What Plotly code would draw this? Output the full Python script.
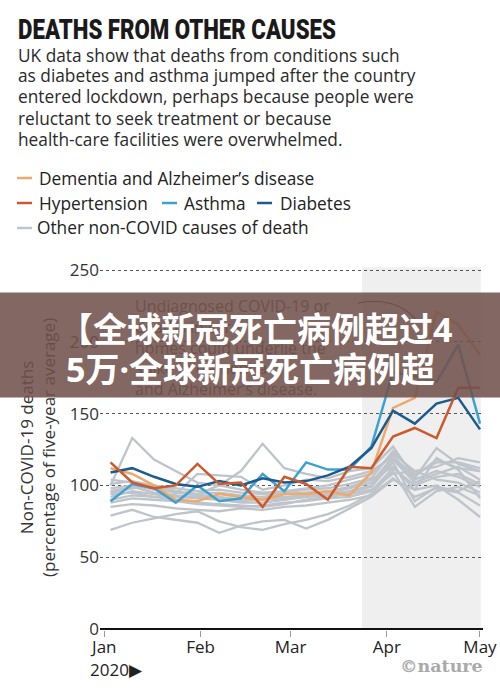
import plotly.graph_objects as go

# ---------------- data ----------------
weeks = ["2020-01-03", "2020-01-10", "2020-01-17", "2020-01-24", "2020-01-31",
         "2020-02-07", "2020-02-14", "2020-02-21", "2020-02-28", "2020-03-06",
         "2020-03-13", "2020-03-20", "2020-03-27", "2020-04-03", "2020-04-10",
         "2020-04-17", "2020-04-24", "2020-05-01"]

dementia = [112, 108, 100, 90, 89, 94, 92, 90, 94, 94, 96, 93, 109, 154, 161, 221, 212, 191]
hypertension = [116, 102, 98, 100, 115, 101, 102, 85, 106, 101, 90, 113, 112, 134, 140, 133, 168, 168]
asthma = [89, 101, 98, 88, 100, 89, 91, 108, 96, 116, 111, 111, 127, 179, 176, 172, 198, 143]
diabetes = [109, 112, 106, 101, 99, 103, 100, 105, 102, 103, 107, 113, 126, 152, 143, 157, 161, 139]

other_causes = [
    [100, 133, 118, 110, 102, 100, 97, 95, 96, 98, 100, 104, 108, 122, 110, 113, 119, 116],
    [95, 98, 100, 96, 94, 100, 110, 129, 112, 108, 105, 110, 112, 127, 105, 126, 115, 110],
    [79, 83, 78, 76, 74, 67, 72, 75, 76, 70, 76, 84, 92, 104, 97, 100, 90, 78],
    [69, 74, 77, 80, 82, 75, 71, 69, 73, 76, 80, 86, 94, 110, 85, 96, 99, 93],
    [92, 96, 94, 92, 91, 90, 88, 88, 90, 92, 94, 96, 100, 118, 102, 108, 113, 104],
    [98, 100, 97, 95, 93, 92, 90, 91, 92, 93, 95, 98, 102, 120, 104, 110, 106, 99],
    [104, 102, 99, 96, 94, 95, 93, 92, 94, 95, 96, 99, 104, 113, 97, 119, 111, 91],
    [90, 93, 92, 90, 88, 87, 86, 85, 87, 90, 92, 94, 97, 108, 110, 104, 102, 95],
    [96, 99, 95, 93, 92, 91, 89, 90, 91, 92, 93, 95, 99, 116, 89, 99, 96, 103],
    [101, 103, 100, 98, 96, 97, 95, 94, 95, 97, 98, 101, 105, 124, 108, 116, 116, 112],
    [88, 91, 90, 89, 87, 86, 85, 86, 88, 89, 91, 92, 96, 112, 100, 106, 108, 101],
    [85, 87, 86, 84, 83, 82, 84, 83, 85, 86, 88, 90, 93, 105, 92, 98, 95, 86],
    [94, 95, 92, 94, 108, 107, 106, 97, 100, 104, 103, 106, 110, 120, 106, 118, 112, 110],
]

month_ticks = ["2020-01-01", "2020-02-01", "2020-03-01", "2020-04-01", "2020-05-01"]
month_labels = ["Jan", "Feb", "Mar", "Apr", "May"]
y_ticks = [0, 50, 100, 150, 200, 250]
lockdown_start = "2020-03-24"
lockdown_end = "2020-05-01 06:00"

# ---------------- styling ----------------
C_DEM = "#eeaa6c"
C_HYP = "#cc5a2c"
C_AST = "#3da2d2"
C_DIA = "#1c5b8c"
C_OTH = "#bfc4ca"

W, H = 500, 691
L, R, T, B = 100, 17, 267, 61
PW, PH = W - L - R, H - T - B

def px(x):
    return (x - L) / PW

def py(y):
    return (H - B - y) / PH

TXT = "Open Sans, Noto Sans, sans-serif"

fig = go.Figure()

for s in other_causes:
    fig.add_trace(go.Scatter(x=weeks, y=s, mode="lines",
                             line=dict(color=C_OTH, width=2.3), hoverinfo="skip"))
for s, c in [(dementia, C_DEM), (asthma, C_AST), (diabetes, C_DIA), (hypertension, C_HYP)]:
    fig.add_trace(go.Scatter(x=weeks, y=s, mode="lines",
                             line=dict(color=c, width=2.5), hoverinfo="skip"))

# lockdown shading
fig.add_shape(type="rect", xref="x", yref="y", x0=lockdown_start, x1=lockdown_end,
              y0=0, y1=252, fillcolor="#efefef", line_width=0, layer="below")

# annotation pointer arc
fig.add_shape(type="path", xref="paper", yref="paper",
              path=f"M {px(358)},{py(303)} Q {px(398)},{py(296)} {px(418)},{py(322)}",
              line=dict(color="#333", width=1.2))

fig.update_layout(
    template="none",
    width=W, height=H,
    margin=dict(l=L, r=R, t=T, b=B, autoexpand=False),
    paper_bgcolor="white", plot_bgcolor="white",
    showlegend=False,
    hovermode=False,
    xaxis=dict(type="date", range=["2019-12-30 14:43", "2020-05-01 23:14"],
               tickvals=month_ticks, ticktext=month_labels, automargin=False,
               ticks="outside", ticklen=6, tickcolor="#999", tickwidth=1,
               ticklabelstandoff=-4,
               tickfont=dict(family=TXT, size=17, color="#222"),
               showgrid=False, showline=False, zeroline=False),
    yaxis=dict(range=[-0.7, 252.1], tickvals=y_ticks, automargin=False,
               tickfont=dict(family=TXT, size=17, color="#333"),
               showgrid=True, gridcolor="#555", griddash="dot", gridwidth=1,
               zeroline=True, zerolinecolor="#111", zerolinewidth=2,
               showline=False, ticks=""),
)

ann = []
# title (index 0) and subtitle
ann.append(dict(text="DEATHS FROM OTHER CAUSES", x=px(16), y=py(29), xanchor="left", yanchor="middle",
                font=dict(family="Roboto, sans-serif", size=28, weight=900, color="#1a1a1a")))
sub = ["UK data show that deaths from conditions such",
       "as diabetes and asthma jumped after the country",
       "entered lockdown, perhaps because people were",
       "reluctant to seek treatment or because",
       "health-care facilities were overwhelmed."]
for i, line in enumerate(sub):
    ann.append(dict(text=line, x=px(16), y=py(55 + 21 * i), xanchor="left", yanchor="middle",
                    font=dict(family=TXT, size=17.3, color="#2a2a2a")))

# legend
legend_items = [
    (17, 178, C_DEM, 37, "Dementia and Alzheimer’s disease"),
    (17, 203, C_HYP, 37, "Hypertension"),
    (162, 203, C_AST, 182, "Asthma"),
    (257, 203, C_DIA, 278, "Diabetes"),
    (17, 228, C_OTH, 35, "Other non-COVID causes of death"),
]
for x0, yy, c, tx, label in legend_items:
    fig.add_shape(type="line", xref="paper", yref="paper", x0=px(x0), x1=px(x0 + 15),
                  y0=py(yy), y1=py(yy), line=dict(color=c, width=2.5))
    ann.append(dict(text=label, x=px(tx), y=py(yy), xanchor="left", yanchor="middle",
                    font=dict(family=TXT, size=17.3, color="#222")))

# y axis title
ann.append(dict(text="Non-COVID-19 deaths<br>(percentage of five-year average)",
                x=px(37), y=py(448), textangle=-90, xanchor="center", yanchor="middle",
                font=dict(family=TXT, size=17, color="#333")))

# year marker
ann.append(dict(text="2020▶", x=px(88), y=py(669), xanchor="left", yanchor="middle",
                font=dict(family=TXT, size=17, color="#222")))

# nature logo
ann.append(dict(text="<b>©nature</b>", x=px(485), y=py(666), xanchor="right", yanchor="middle",
                font=dict(family="DejaVu Serif, serif", size=17.5, color="#a9a9a9")))

# in-chart note (partly hidden by banner)
ann.append(dict(text="Undiagnosed COVID-19 or<br>deaths in care<br>homes could underlie the<br>spike in dementia<br>and Alzheimer’s disease.",
                x=px(133), y=py(293), xanchor="left", yanchor="top", align="left",
                font=dict(family=TXT, size=16, color="#555")))

# overlay banner
ann.append(dict(text=" ", x=px(250), y=py(345), xanchor="center", yanchor="middle",
                width=500, height=104, bgcolor="rgba(112,80,75,0.87)", borderpad=0,
                showarrow=False))
CJK = "Noto Sans, Noto Sans CJK SC, sans-serif"
ann.append(dict(text="<b>【全球新冠死亡病例超过4</b>",
                x=px(57), y=py(329), xanchor="left", yanchor="middle",
                font=dict(family=CJK, size=34, color="white")))
ann.append(dict(text="<b>5万·全球新冠死亡病例超</b>",
                x=px(64), y=py(369), xanchor="left", yanchor="middle",
                font=dict(family=CJK, size=34, color="white")))

for a in ann:
    a.setdefault("xref", "paper")
    a.setdefault("yref", "paper")
    a.setdefault("showarrow", False)
fig.update_layout(annotations=ann)

# remove the page's default body margin and condense the headline
post = """
document.body.style.margin = '0px';
document.body.style.overflow = 'hidden';
var gd = document.getElementById('{plot_id}');
function squeeze(){
  var t = gd.querySelector('g.annotation[data-index="0"] text.annotation-text');
  if(!t) return;
  t.removeAttribute('transform');
  var bb = t.getBBox();
  if(!bb.width) return;
  var s = 318 / bb.width;
  t.setAttribute('transform', 'translate(' + (bb.x*(1-s)) + ',0) scale(' + s + ',1)');
}
squeeze();
gd.on && gd.on('plotly_afterplot', squeeze);
"""
fig.write_html("out.html", post_script=post,
               config={"displayModeBar": False, "staticPlot": True})
